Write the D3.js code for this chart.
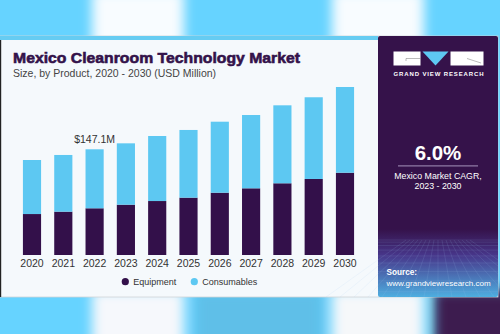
<!DOCTYPE html>
<meta charset="utf-8">
<style>
  body { margin: 0; background: #66d3ff; }
  svg { display: block; }
  text { font-family: "Liberation Sans", Arial, sans-serif; }
</style>
<body>
<div id="chart"></div>
<script src="https://d3js.org/d3.v7.min.js"></script>
<script>
  const years = ["2020", "2021", "2022", "2023", "2024", "2025", "2026", "2027", "2028", "2029", "2030"];
  const equipment = [57, 60.3, 65, 70, 75.1, 79.8, 86.7, 92.8, 99.8, 105.8, 114.5];
  const consumables = [75.2, 78.9, 82.1, 85.4, 90.5, 94.2, 98.8, 102, 108.5, 113.7, 119.3];
  const seriesNames = ["Equipment", "Consumables"];
  const seriesColors = ["#33104a", "#5dc8f2"];
  const callout = { year: "2022", label: "$147.1M" };

  const width = 500, height = 334;
  const svg = d3.select("#chart").append("svg")
    .attr("width", width)
    .attr("height", height);

  // backdrop bands
  const defs = svg.append("defs");
  const blur = defs.append("filter").attr("id", "blur").attr("x", "-20%").attr("width", "140%");
  blur.append("feGaussianBlur").attr("stdDeviation", 6);

  svg.append("rect").attr("width", width).attr("height", height).attr("fill", "#66d3ff");
  const bands = svg.append("g").attr("filter", "url(#blur)");
  bands.append("rect").attr("x", 92).attr("y", -10).attr("width", 92).attr("height", 60).attr("fill", "#f8fcff");
  bands.append("rect").attr("x", 332).attr("y", -10).attr("width", 92).attr("height", 60).attr("fill", "#f8fcff");
  bands.append("rect").attr("x", 92).attr("y", 290).attr("width", 92).attr("height", 60).attr("fill", "#f6f8fc");
  bands.append("rect").attr("x", 195).attr("y", 290).attr("width", 128).attr("height", 60).attr("fill", "#5fbfe8");
  bands.append("rect").attr("x", 332).attr("y", 290).attr("width", 92).attr("height", 60).attr("fill", "#f6f8fa");
  bands.append("rect").attr("x", 434).attr("y", 290).attr("width", 80).attr("height", 60).attr("fill", "#3e1a50");

  // card
  svg.append("rect").attr("x", 0).attr("y", 36).attr("width", 498).attr("height", 261)
    .attr("fill", "#f5f9fc").attr("stroke", "#cfd4d8").attr("stroke-width", 0.8);
  svg.append("rect").attr("x", 0).attr("y", 36).attr("width", 1.2).attr("height", 261).attr("fill", "#222");
  svg.append("rect").attr("x", 0).attr("y", 36).attr("width", 378).attr("height", 4).attr("fill", "#66ccf2");

  svg.append("text").attr("x", 13).attr("y", 63)
    .attr("font-size", 15.5).attr("font-weight", 900).attr("fill", "#33124a")
    .attr("stroke", "#33124a").attr("stroke-width", 0.6)
    .attr("textLength", 287).attr("lengthAdjust", "spacingAndGlyphs")
    .text("Mexico Cleanroom Technology Market");
  svg.append("text").attr("x", 13).attr("y", 76.5)
    .attr("font-size", 10.5).attr("fill", "#444")
    .text("Size, by Product, 2020 - 2030 (USD Million)");

  // bars
  const x = d3.scaleBand().domain(years).range([16.35, 360.65])
    .paddingInner(0.42).paddingOuter(0.21);
  const y = d3.scaleLinear().domain([0, 250]).range([255, 255 - 250 * 0.7186]);

  const rows = years.map((yr, i) => ({ year: yr, Equipment: equipment[i], Consumables: consumables[i] }));
  const stacked = d3.stack().keys(seriesNames)(rows);

  svg.append("g").selectAll("g")
    .data(stacked)
    .join("g")
    .attr("fill", (d, i) => seriesColors[i])
    .selectAll("rect")
    .data(d => d)
    .join("rect")
    .attr("x", d => x(d.data.year))
    .attr("y", d => y(d[1]))
    .attr("width", x.bandwidth())
    .attr("height", d => y(d[0]) - y(d[1]));

  const xAxis = svg.append("g").attr("transform", "translate(0,255)")
    .call(d3.axisBottom(x).tickSize(0).tickPadding(5));
  xAxis.select(".domain").remove();
  xAxis.selectAll("text").attr("font-size", 10.5).attr("fill", "#333")
    .attr("font-family", "Liberation Sans, Arial, sans-serif");

  const ci = years.indexOf(callout.year);
  svg.append("text")
    .attr("x", x(callout.year) + x.bandwidth() / 2)
    .attr("y", y(equipment[ci] + consumables[ci]) - 6)
    .attr("text-anchor", "middle").attr("font-size", 10.5).attr("fill", "#333")
    .text(callout.label);

  // legend
  const legendX = [125.3, 194.3];
  const legend = svg.append("g").selectAll("g").data(seriesNames).join("g")
    .attr("transform", (d, i) => `translate(${legendX[i]},281.7)`);
  legend.append("circle").attr("r", 3.6).attr("fill", (d, i) => seriesColors[i]);
  legend.append("text").attr("x", 8).attr("dy", "0.35em")
    .attr("font-size", 9).attr("fill", "#333").text(d => d);

  // right panel
  const grad = defs.append("linearGradient").attr("id", "panelGrad")
    .attr("x1", 0).attr("x2", 0).attr("y1", 0).attr("y2", 1);
  grad.append("stop").attr("offset", "0%").attr("stop-color", "#35124a");
  grad.append("stop").attr("offset", "74%").attr("stop-color", "#35124a");
  grad.append("stop").attr("offset", "84%").attr("stop-color", "#47368a");
  grad.append("stop").attr("offset", "100%").attr("stop-color", "#4eaee0");
  svg.append("rect").attr("x", 378).attr("y", 36).attr("width", 120).attr("height", 261)
    .attr("rx", 2).attr("fill", "url(#panelGrad)");

  // faint grid in lower panel
  const grid = svg.append("g").attr("stroke", "#9fc4ee").attr("stroke-opacity", 0.25).attr("stroke-width", 0.5);
  d3.range(0, 10).forEach(k => {
    const yy = 240 + k * k * 0.62 + k * 1.5;
    if (yy < 297) grid.append("line").attr("x1", 378).attr("x2", 498).attr("y1", yy).attr("y2", yy);
  });
  d3.range(-8, 9).forEach(k => {
    grid.append("line").attr("x1", 438 + k * 4).attr("y1", 240).attr("x2", 438 + k * 14).attr("y2", 297);
  });

  // logo
  const logo = svg.append("g");
  logo.append("rect").attr("x", 393.5).attr("y", 51.5).attr("width", 27).attr("height", 14).attr("fill", "#fff");
  logo.append("path").attr("d", "M422.5,51.5 L448.5,51.5 L435.5,65.5 Z").attr("fill", "#5ec8f2");
  logo.append("rect").attr("x", 450.5).attr("y", 51.5).attr("width", 33).attr("height", 14).attr("fill", "#fff");
  logo.append("path").attr("d", "M406,58.5 L420.5,58.5 M406,58.5 L406,61").attr("stroke", "#777").attr("stroke-width", 0.5).attr("fill", "none");
  logo.append("path").attr("d", "M467,58.5 L481,63").attr("stroke", "#777").attr("stroke-width", 0.5);
  svg.append("text").attr("x", 438.5).attr("y", 75.5).attr("text-anchor", "middle")
    .attr("font-size", 6).attr("font-weight", 700).attr("fill", "#fff")
    .attr("textLength", 90).attr("lengthAdjust", "spacing")
    .text("GRAND VIEW RESEARCH");

  svg.append("text").attr("x", 438).attr("y", 159.5).attr("text-anchor", "middle")
    .attr("font-size", 20.5).attr("font-weight", 700).attr("fill", "#fff").text("6.0%");
  svg.append("line").attr("x1", 398).attr("x2", 478).attr("y1", 165.8).attr("y2", 165.8)
    .attr("stroke", "#8f7aa5").attr("stroke-width", 1.2);
  svg.append("text").attr("x", 438).attr("y", 178.5).attr("text-anchor", "middle")
    .attr("font-size", 8.8).attr("fill", "#fff").text("Mexico Market CAGR,");
  svg.append("text").attr("x", 438).attr("y", 189).attr("text-anchor", "middle")
    .attr("font-size", 8.8).attr("fill", "#fff").text("2023 - 2030");

  svg.append("text").attr("x", 386.5).attr("y", 274.5)
    .attr("font-size", 8.2).attr("font-weight", 700).attr("fill", "#fff").text("Source:");
  svg.append("text").attr("x", 386.5).attr("y", 285.5)
    .attr("font-size", 8).attr("fill", "#fff").text("www.grandviewresearch.com");
</script>
</body>
